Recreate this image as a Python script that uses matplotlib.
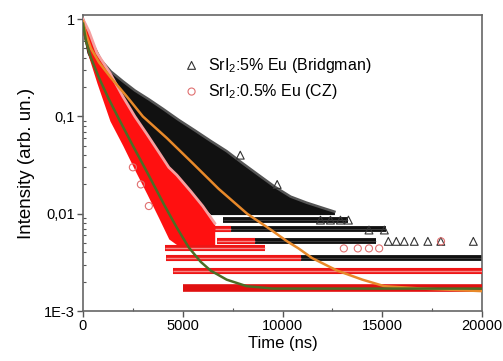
import numpy as np
import matplotlib.pyplot as plt
from matplotlib.ticker import FixedLocator, FixedFormatter, MultipleLocator

plt.rcParams['font.family'] = ['Liberation Sans', 'DejaVu Sans']
plt.rcParams['mathtext.fontset'] = 'custom'
plt.rcParams['mathtext.rm'] = 'Liberation Sans'
plt.rcParams['mathtext.default'] = 'regular'

# --- black cloud: SrI2:5% Eu (Bridgman), envelope ---
bri_t = [0, 200, 500, 900, 1400, 2000, 2600, 3300, 4000, 4800, 5600, 6400,
         7200, 8000, 8800, 9600, 10400, 11200, 12000, 12600]
bri_hi = [1.0, 0.75, 0.55, 0.38, 0.29, 0.23, 0.185, 0.15, 0.12, 0.092, 0.072,
          0.056, 0.044, 0.033, 0.025, 0.019, 0.015, 0.013, 0.0115, 0.0105]
bri_lo = [0.7, 0.45, 0.33, 0.24, 0.16, 0.1, 0.07, 0.048, 0.033, 0.021, 0.014,
          0.0098, 0.0098, 0.0098, 0.0098, 0.0098, 0.0098, 0.0098, 0.0098, 0.0098]

# --- red cloud: SrI2:0.5% Eu (CZ) ---
cz_t = [0, 300, 700, 1350, 2000, 2600, 3200, 3800, 4300, 4700, 5400, 6000, 6600]
cz_hi = [1.0, 0.75, 0.45, 0.28, 0.16, 0.1, 0.066, 0.043, 0.03, 0.025, 0.017,
         0.012, 0.008]
cz_lo = [0.7, 0.4, 0.22, 0.09, 0.05, 0.028, 0.016, 0.009, 0.0055, 0.0048,
         0.0048, 0.0048, 0.0048]

# quantised low-count rows: level, start, end
blk_level = [0.0086, 0.0069, 0.0052, 0.0035]
blk_start = [7000, 7400, 8600, 10900]
blk_end = [13300, 15200, 14700, 20000]
red_level = [0.0069, 0.0052, 0.0044, 0.0035, 0.0026, 0.00172]
red_start = [6600, 6700, 4100, 4150, 4500, 5000]
red_end = [7400, 8600, 9100, 10900, 20000, 20000]

# isolated markers
tri_t = [7880, 9730, 11900, 12400, 12900, 13300, 14330, 15100, 15300, 15700,
         16100, 16600, 17280, 17930, 19560]
tri_y = [0.04, 0.02, 0.0086, 0.0086, 0.0086, 0.0086, 0.0068, 0.0068, 0.0052,
         0.0052, 0.0052, 0.0052, 0.0052, 0.0052, 0.0052]
circ_t = [2500, 2900, 3300, 13070, 13770, 14330, 14840, 17940]
circ_y = [0.03, 0.02, 0.012, 0.0044, 0.0044, 0.0044, 0.0044, 0.0052]

# fitted curves
fit_bri_t = [0, 150, 400, 800, 1400, 2200, 3000, 4200, 5500, 6800, 8226, 9390,
             10230, 10800, 11480, 12740, 14000, 15100, 17000, 20000]
fit_bri_y = [0.95, 0.7, 0.5, 0.36, 0.25, 0.16, 0.1, 0.06, 0.033, 0.018, 0.01,
             0.0069, 0.0052, 0.0044, 0.0035, 0.0026, 0.0021, 0.0018, 0.0017, 0.0016]
fit_cz_t = [0, 150, 400, 800, 1300, 1850, 2500, 3200, 4100, 4700, 5300, 5900,
            6400, 7200, 8200, 9500, 20000]
fit_cz_y = [0.9, 0.6, 0.4, 0.25, 0.15, 0.09, 0.05, 0.027, 0.012, 0.0072,
            0.0045, 0.0032, 0.0026, 0.0021, 0.0018, 0.0017, 0.0017]

fig = plt.figure(figsize=(5.03, 3.61), dpi=100)
ax = fig.add_axes([0.165, 0.1385, 0.7935, 0.8195])

# black data
ax.fill_between(bri_t, bri_lo, bri_hi, color='#111111', lw=0, zorder=2)
ax.plot(bri_t, bri_hi, color='#555555', lw=1.8, zorder=2)
ax.hlines(blk_level, blk_start, blk_end, color='#111111', lw=4.2, zorder=2)
ax.hlines(blk_level, blk_start, blk_end, color='#666666', lw=0.6, alpha=0.6, zorder=2)
sc_tri = ax.scatter(tri_t, tri_y, marker='^', s=32, facecolors='none',
                    edgecolors='#333333', linewidths=0.8, zorder=3,
                    label='SrI$_2$:5% Eu (Bridgman)')

# red data
ax.fill_between(cz_t, cz_lo, cz_hi, color='#ff1010', lw=0, zorder=4)
ax.plot(cz_t, cz_hi, color='#f5a0a0', lw=2.0, zorder=4)
ax.hlines(red_level[:-1], red_start[:-1], red_end[:-1], color='#ee1515', lw=4.4, zorder=4)
ax.hlines(red_level[:-1], red_start[:-1], red_end[:-1], color='#f8b8b8', lw=1.0,
          alpha=0.7, zorder=4)
ax.hlines(red_level[-1:], red_start[-1:], red_end[-1:], color='#e01010', lw=5.5, zorder=4)
sc_circ = ax.scatter(circ_t, circ_y, marker='o', s=26, facecolors='none',
                     edgecolors='#e07070', linewidths=0.8, zorder=5,
                     label='SrI$_2$:0.5% Eu (CZ)')

# fits
ax.plot(fit_bri_t, fit_bri_y, color='#e8892a', lw=1.8, zorder=6)
ax.plot(fit_cz_t, fit_cz_y, color='#4b6e25', lw=1.8, zorder=7)

ax.set_yscale('log')
ax.set_xlim(0, 20000)
ax.set_ylim(1e-3, 1.1)

ax.xaxis.set_major_locator(MultipleLocator(5000))
ax.xaxis.set_minor_locator(MultipleLocator(2500))
ax.yaxis.set_major_locator(FixedLocator([1e-3, 1e-2, 1e-1, 1]))
ax.yaxis.set_major_formatter(FixedFormatter(['1E-3', '0,01', '0,1', '1']))
ax.tick_params(which='major', direction='out', length=4, width=1,
               color='#555555', labelsize=10.5, pad=2)
ax.tick_params(which='minor', direction='in', length=2.5, width=0.8, color='#555555')
ax.tick_params(axis='y', which='minor', labelleft=False)
for sp in ax.spines.values():
    sp.set_color('#666666')
    sp.set_linewidth(1.2)

ax.set_xlabel('Time (ns)', fontsize=12, labelpad=2)
ax.set_ylabel('Intensity (arb. un.)', fontsize=13.5, labelpad=6)

ax.legend(handles=[sc_tri, sc_circ], loc='upper left',
          bbox_to_anchor=(0.232, 0.885), frameon=False, fontsize=11.5,
          handletextpad=0.4, labelspacing=0.45, handlelength=1.2,
          borderaxespad=0)

fig.savefig('out.png', dpi=100)
